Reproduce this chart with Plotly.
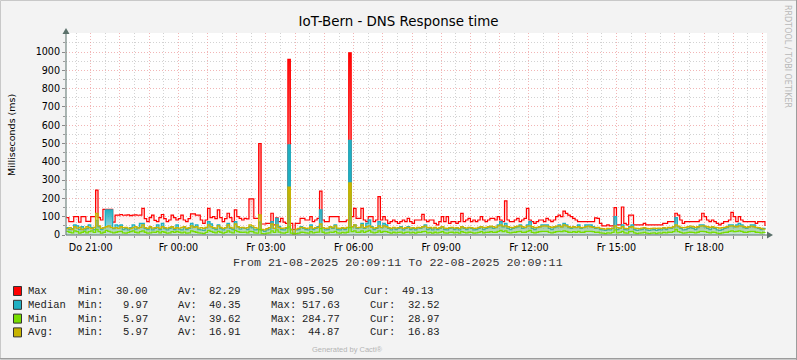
import pandas as pd
import plotly.graph_objects as go

# ---------------- data ----------------
TITLE = "IoT-Bern - DNS Response time"
RANGE_START = "2025-08-21 20:09:11"
RANGE_END = "2025-08-22 20:09:11"
FIRST_SAMPLE = "2025-08-21 20:10:00"
STEP = "5min"

max_ms = [
    95, 73, 73, 100, 100, 70, 100, 100, 75, 75, 100, 100, 245, 95, 82, 140, 140, 140, 140, 70,
    109, 109, 112, 108, 109, 110, 106, 109, 110, 108, 109, 146, 90, 73, 95, 109, 80, 73, 95, 112,
    90, 73, 82, 109, 95, 82, 90, 109, 82, 73, 90, 115, 115, 109, 109, 82, 64, 82, 146, 95,
    100, 90, 137, 95, 73, 90, 119, 95, 73, 137, 100, 91, 82, 91, 88, 197, 197, 91, 91, 500,
    60, 60, 64, 64, 119, 55, 94, 73, 91, 70, 64, 960, 64, 30, 64, 64, 91, 91, 82, 82,
    100, 73, 82, 91, 240, 82, 73, 73, 100, 100, 100, 100, 73, 73, 73, 82, 995.5, 100, 146, 91,
    91, 146, 82, 73, 100, 100, 73, 82, 210, 82, 100, 82, 64, 73, 82, 73, 64, 73, 82, 73,
    91, 73, 64, 82, 82, 82, 113, 82, 73, 82, 82, 64, 55, 73, 100, 73, 100, 64, 73, 73,
    64, 73, 118, 73, 82, 91, 73, 82, 73, 82, 100, 82, 73, 82, 91, 91, 82, 100, 82, 73,
    186, 82, 73, 73, 82, 91, 73, 82, 91, 146, 82, 73, 64, 73, 82, 82, 73, 91, 82, 73,
    82, 100, 109, 100, 131, 118, 109, 100, 91, 82, 73, 73, 73, 73, 73, 73, 73, 94, 91, 64,
    50, 50, 55, 50, 50, 150, 55, 55, 153, 64, 55, 109, 109, 55, 55, 55, 55, 64, 55, 55,
    55, 55, 55, 55, 55, 64, 64, 73, 73, 73, 119, 109, 82, 64, 73, 73, 73, 73, 73, 73,
    82, 119, 100, 82, 73, 82, 73, 64, 55, 64, 73, 73, 82, 124, 100, 73, 100, 82, 73, 73,
    73, 73, 73, 64, 73, 73, 73, 49.13,
]

median_ms = [
    40, 30, 35, 55, 50, 30, 45, 28, 35, 55, 40, 30, 80, 45, 30, 40, 137, 137, 137, 35,
    55, 50, 55, 30, 36, 28, 40, 55, 32, 40, 64, 64, 35, 30, 40, 28, 36, 55, 30, 64,
    35, 28, 36, 45, 30, 55, 32, 28, 40, 30, 36, 64, 45, 55, 30, 28, 25, 40, 73, 60,
    36, 30, 55, 35, 28, 40, 64, 36, 30, 73, 45, 32, 40, 36, 30, 45, 40, 28, 30, 70,
    25, 20, 28, 32, 73, 36, 91, 45, 30, 28, 36, 492, 30, 9.97, 28, 30, 45, 36, 30, 28,
    55, 30, 36, 45, 137, 40, 28, 30, 45, 36, 55, 30, 28, 36, 30, 40, 517.63, 45, 55, 36,
    40, 64, 36, 64, 82, 45, 30, 36, 73, 40, 64, 55, 36, 28, 40, 30, 36, 45, 28, 36,
    45, 30, 36, 28, 40, 36, 45, 55, 30, 36, 28, 40, 30, 36, 45, 30, 28, 36, 40, 30,
    36, 28, 45, 36, 30, 40, 36, 28, 30, 36, 45, 30, 36, 40, 45, 36, 40, 55, 73, 45,
    64, 36, 30, 36, 40, 45, 55, 36, 40, 55, 73, 36, 30, 40, 45, 55, 55, 55, 36, 30,
    40, 45, 55, 45, 64, 55, 40, 36, 45, 40, 55, 36, 40, 55, 55, 55, 45, 36, 40, 30,
    28, 25, 30, 28, 36, 100, 30, 36, 55, 30, 28, 45, 55, 30, 25, 28, 30, 36, 28, 25,
    28, 30, 25, 30, 28, 36, 30, 40, 36, 45, 95, 45, 36, 28, 30, 36, 40, 36, 30, 40,
    55, 55, 45, 36, 30, 40, 36, 28, 25, 30, 36, 40, 55, 55, 45, 55, 64, 55, 40, 36,
    45, 55, 55, 40, 36, 30, 36, 32.52,
]

yellow_ms = [
    35, 40, 30, 45, 38, 42, 30, 36, 45, 40, 35, 42, 118, 50, 36, 40, 45, 50, 42, 38,
    40, 36, 45, 40, 42, 38, 35, 40, 45, 38, 42, 55, 40, 36, 45, 38, 40, 42, 36, 45,
    40, 38, 42, 45, 36, 40, 38, 42, 45, 36, 40, 50, 42, 45, 38, 40, 36, 42, 55, 45,
    40, 38, 50, 42, 36, 40, 55, 42, 38, 60, 45, 40, 42, 38, 40, 55, 50, 40, 38, 110,
    30, 28, 35, 40, 60, 36, 55, 40, 36, 38, 40, 262, 30, 5.97, 32, 36, 42, 40, 36, 38,
    45, 36, 40, 42, 60, 40, 36, 38, 45, 40, 50, 38, 36, 40, 36, 42, 284.77, 45, 55, 40,
    42, 55, 40, 45, 50, 42, 38, 40, 50, 42, 50, 45, 40, 36, 42, 38, 40, 42, 36, 40,
    42, 38, 40, 36, 42, 40, 45, 48, 40, 42, 38, 42, 36, 40, 45, 38, 36, 40, 42, 38,
    40, 36, 45, 40, 38, 42, 40, 36, 38, 42, 45, 40, 42, 45, 48, 45, 42, 50, 55, 48,
    50, 45, 42, 40, 45, 48, 50, 45, 42, 48, 50, 45, 40, 42, 45, 48, 50, 48, 45, 42,
    45, 48, 50, 45, 55, 50, 45, 42, 45, 42, 45, 40, 42, 45, 48, 45, 42, 40, 42, 36,
    35, 32, 36, 35, 38, 50, 40, 38, 45, 36, 35, 42, 45, 38, 36, 35, 38, 40, 36, 35,
    36, 38, 36, 38, 36, 40, 38, 42, 40, 45, 55, 48, 42, 40, 42, 45, 48, 45, 42, 45,
    48, 50, 48, 45, 42, 45, 42, 40, 38, 40, 42, 45, 48, 50, 48, 45, 50, 48, 45, 42,
    45, 48, 45, 42, 40, 36, 32, 28.97,
]

green_ms = [
    20, 15, 12, 22, 18, 10, 15, 20, 12, 18, 22, 14, 30, 18, 10, 15, 25, 20, 16, 12,
    15, 18, 20, 12, 10, 14, 18, 22, 15, 12, 18, 22, 15, 10, 12, 16, 14, 20, 12, 18,
    15, 10, 12, 18, 14, 20, 15, 12, 16, 10, 12, 22, 18, 15, 12, 10, 8, 14, 25, 20,
    15, 12, 20, 15, 10, 14, 22, 16, 12, 25, 18, 15, 14, 16, 12, 20, 18, 12, 10, 30,
    8, 6, 10, 12, 22, 14, 28, 16, 12, 10, 14, 44.87, 10, 5.97, 8, 10, 15, 14, 12, 10,
    18, 12, 14, 16, 35, 15, 10, 12, 16, 14, 20, 12, 10, 14, 12, 15, 40, 18, 22, 14,
    15, 22, 14, 20, 25, 16, 12, 14, 22, 15, 20, 18, 14, 10, 15, 12, 14, 16, 10, 14,
    16, 12, 14, 10, 15, 14, 18, 20, 12, 14, 10, 15, 12, 14, 18, 12, 10, 14, 15, 12,
    14, 10, 18, 14, 12, 15, 14, 10, 12, 14, 18, 12, 14, 15, 18, 14, 15, 20, 25, 18,
    22, 14, 12, 14, 15, 18, 20, 14, 15, 20, 25, 14, 12, 15, 18, 20, 20, 20, 14, 12,
    15, 18, 20, 18, 22, 20, 15, 14, 18, 15, 20, 14, 15, 20, 20, 20, 18, 14, 15, 12,
    10, 8, 12, 10, 14, 28, 12, 14, 20, 12, 10, 18, 20, 12, 8, 10, 12, 14, 10, 8,
    10, 12, 8, 12, 10, 14, 12, 15, 14, 18, 30, 18, 14, 10, 12, 14, 15, 14, 12, 15,
    20, 20, 18, 14, 12, 15, 14, 10, 8, 12, 14, 15, 20, 22, 18, 20, 22, 20, 15, 14,
    18, 20, 20, 15, 14, 12, 14, 16.83,
]

x_tick_labels = {
    "2025-08-21 21:00": "Do 21:00", "2025-08-22 00:00": "Fr 00:00",
    "2025-08-22 03:00": "Fr 03:00", "2025-08-22 06:00": "Fr 06:00",
    "2025-08-22 09:00": "Fr 09:00", "2025-08-22 12:00": "Fr 12:00",
    "2025-08-22 15:00": "Fr 15:00", "2025-08-22 18:00": "Fr 18:00",
}
y_tick_values = [0, 100, 200, 300, 400, 500, 600, 700, 800, 900, 1000]

legend_names = ["Max", "Median", "Min", "Avg:"]
legend_colors = ["#ff0000", "#20b0c2", "#77dd00", "#c8b400"]
stat_min = ["30.00", "9.97", "5.97", "5.97"]
stat_av = ["82.29", "40.35", "39.62", "16.91"]
stat_max = ["995.50", "517.63", "284.77", "44.87"]
stat_cur = ["49.13", "32.52", "28.97", "16.83"]
max_labels = ["Max", "Max:", "Max:", "Max:"]

# ---------------- layout helpers ----------------
W, H = 797, 360
ML, MR, MT, MB = 66, 30, 33, 125
PW, PH = W - ML - MR, H - MT - MB


def px(x):
    return (x - ML) / PW


def py(y):
    return (MT + PH - y) / PH


times = pd.date_range(FIRST_SAMPLE, periods=len(max_ms), freq=STEP)

fig = go.Figure()


def add_series(y, rgb, width, a0, stop, fill=True):
    r, g, b = rgb
    kw = dict(
        x=times, y=y, mode="lines",
        line=dict(color=f"rgb({r},{g},{b})", width=width, shape="hv"),
        hoverinfo="skip", showlegend=False,
    )
    if fill:
        kw["fill"] = "tozeroy"
        kw["fillgradient"] = dict(
            type="vertical", start=0, stop=stop,
            colorscale=[[0, f"rgba({r},{g},{b},{a0})"], [1, f"rgba({r},{g},{b},1)"]],
        )
    fig.add_trace(go.Scatter(**kw))


# Max (red) with fading fill
fig.add_trace(go.Scatter(
    x=times, y=max_ms, mode="lines",
    line=dict(color="#ff0000", width=1.2, shape="hv"),
    fill="tozeroy",
    fillgradient=dict(type="vertical", start=0, stop=1000,
                      colorscale=[[0, "rgba(255,255,255,0)"], [0.1, "rgba(255,150,150,0.18)"],
                                  [0.25, "rgba(255,110,110,0.55)"], [0.5, "rgba(255,90,90,0.75)"],
                                  [1, "rgba(255,0,0,1)"]]),
    hoverinfo="skip", showlegend=False,
))
add_series(median_ms, (32, 176, 194), 1.3, 0.25, 140)
add_series(yellow_ms, (200, 180, 0), 1.3, 0.1, 240)
add_series(green_ms, (119, 221, 0), 1.3, 0, 1, fill=False)

hour_ticks = pd.date_range("2025-08-21 21:00", "2025-08-22 20:00", freq="1h")
half_ticks = pd.date_range("2025-08-21 20:30", "2025-08-22 20:00", freq="1h")
ticktext = [x_tick_labels.get(t.strftime("%Y-%m-%d %H:%M"), "") for t in hour_ticks]

major_grid = "rgba(236,150,150,0.7)"
minor_grid = "#d2d2d2"
axis_col = "#5b716b"
tick_font = dict(family="DejaVu Sans", size=9.6, color="#000000")

fig.update_layout(
    width=W, height=H,
    margin=dict(l=ML, r=MR, t=MT, b=MB, pad=0),
    paper_bgcolor="#f3f3f3", plot_bgcolor="#ffffff",
    font=dict(family="DejaVu Sans", color="#000000"),
    title=dict(text=TITLE, x=0.5, xref="container", xanchor="center",
               y=1 - 21 / H, yref="container", yanchor="middle",
               font=dict(family="DejaVu Sans", size=13.4, color="#000000")),
    xaxis=dict(
        type="date", range=[RANGE_START, RANGE_END],
        tickmode="array", tickvals=list(hour_ticks), ticktext=ticktext,
        showgrid=True, gridcolor=major_grid, griddash="1px,2px", gridwidth=1,
        minor=dict(tickmode="array", tickvals=list(half_ticks), showgrid=True,
                   gridcolor=minor_grid, griddash="1px,2px", ticks="outside",
                   ticklen=2, tickcolor="#9a9a9a"),
        ticks="outside", ticklen=3, tickcolor="#8a8a8a",
        showline=False, zeroline=False,
        tickfont=tick_font, fixedrange=True,
    ),
    yaxis=dict(
        range=[0, 1104], tickmode="array", tickvals=y_tick_values,
        ticktext=[str(v) for v in y_tick_values],
        showgrid=True, gridcolor=major_grid, griddash="1px,2px", gridwidth=1,
        minor=dict(tickmode="array", tickvals=[v + 50 for v in y_tick_values],
                   showgrid=True, gridcolor=minor_grid, griddash="1px,2px",
                   ticks="outside", ticklen=2, tickcolor="#9a9a9a"),
        ticks="outside", ticklen=3, tickcolor="#8a8a8a",
        showline=False, zeroline=False,
        tickfont=tick_font, fixedrange=True,
    ),
)

shapes = []
# axis lines and arrows
shapes.append(dict(type="line", xref="paper", yref="paper", layer="above",
                   x0=px(66), x1=px(66), y0=py(235), y1=py(32),
                   line=dict(color=axis_col, width=1)))
shapes.append(dict(type="line", xref="paper", yref="paper", layer="above",
                   x0=px(66), x1=px(768), y0=py(235), y1=py(235),
                   line=dict(color=axis_col, width=1)))
shapes.append(dict(type="path", xref="paper", yref="paper", layer="above",
                   path=f"M {px(62.5)} {py(34)} L {px(69.5)} {py(34)} L {px(66)} {py(28)} Z",
                   fillcolor=axis_col, line=dict(width=0)))
shapes.append(dict(type="path", xref="paper", yref="paper", layer="above",
                   path=f"M {px(767)} {py(231.5)} L {px(767)} {py(238.5)} L {px(773)} {py(235)} Z",
                   fillcolor=axis_col, line=dict(width=0)))
# outer border
shapes.append(dict(type="rect", xref="paper", yref="paper", layer="above",
                   x0=px(0.5), x1=px(796.5), y0=py(359.5), y1=py(0.5),
                   line=dict(color="#c8c8c8", width=1)))
shapes.append(dict(type="line", xref="paper", yref="paper", layer="above",
                   x0=px(796.5), x1=px(796.5), y0=py(0), y1=py(360),
                   line=dict(color="#9c9c9c", width=1)))
shapes.append(dict(type="line", xref="paper", yref="paper", layer="above",
                   x0=px(0), x1=px(797), y0=py(358.5), y1=py(358.5),
                   line=dict(color="#9c9c9c", width=1)))

annotations = []
mono = "Liberation Mono"
row_y = [291, 304.8, 318.6, 332.4]
for k, name in enumerate(legend_names):
    yy = row_y[k]
    shapes.append(dict(type="rect", xref="paper", yref="paper", layer="above",
                       x0=px(13.5), x1=px(21.5), y0=py(yy + 4.5), y1=py(yy - 4.5),
                       fillcolor=legend_colors[k], line=dict(color="#333333", width=1)))
    first = (k == 0)
    items = [
        (name, 25.7, "left"),
        ("Min:", 76, "left"),
        (stat_min[k], 149.5, "right"),
        ("Av:", 176, "left"),
        (stat_av[k], 242.5, "right"),
        (max_labels[k], 269.3, "left"),
        (stat_max[k], 335.5 if first else 342, "right"),
        ("Cur:", 362.3 if first else 368.3, "left"),
        (stat_cur[k], 435.5 if first else 441.5, "right"),
    ]
    for text, xx, anchor in items:
        annotations.append(dict(text=text, x=px(xx), y=py(yy), xref="paper", yref="paper",
                                xanchor=anchor, yanchor="middle", showarrow=False,
                                font=dict(family=mono, size=10.5, color="#222222")))

annotations.append(dict(text="From 21-08-2025 20:09:11 To 22-08-2025 20:09:11",
                        x=px(398), y=py(263), xref="paper", yref="paper",
                        xanchor="center", yanchor="middle", showarrow=False,
                        font=dict(family=mono, size=11.7, color="#333333")))
annotations.append(dict(text="Milliseconds (ms)", x=px(11), y=py(135), xref="paper", yref="paper",
                        xanchor="center", yanchor="middle", showarrow=False, textangle=-90,
                        font=dict(family="DejaVu Sans", size=9.5, color="#000000")))
annotations.append(dict(text="Generated by Cacti®", x=px(347), y=py(349), xref="paper", yref="paper",
                        xanchor="center", yanchor="middle", showarrow=False,
                        font=dict(family="Liberation Sans", size=7.5, color="#b4b4b4")))
annotations.append(dict(text="RRDTOOL / TOBI OETIKER", x=px(788), y=py(56), xref="paper", yref="paper",
                        xanchor="center", yanchor="middle", showarrow=False, textangle=90,
                        font=dict(family="DejaVu Sans", size=8, color="#b8b8b8")))

fig.update_layout(shapes=shapes, annotations=annotations)
fig.write_html("out.html", config={"displayModeBar": False},
               post_script="document.body.style.margin='0';document.body.style.overflow='hidden';")
